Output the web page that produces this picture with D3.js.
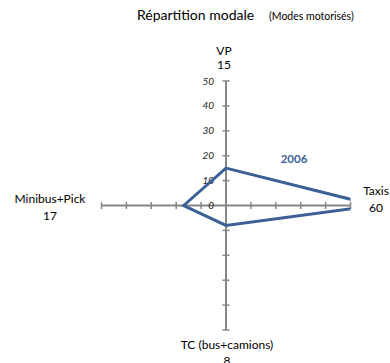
<!DOCTYPE html>
<html><head><meta charset="utf-8">
<script src="https://cdn.jsdelivr.net/npm/d3@7"></script>
<style>body{margin:0;background:#fff}svg{display:block}text{font-family:Lato,"Liberation Sans",Arial,sans-serif}</style>
</head><body>
<script>
const categories = ["VP", "Taxis", "TC (bus+camions)", "Minibus+Pick"];
const values2006 = [15, 60, 8, 17];
const tickValues = [0, 10, 20, 30, 40, 50];
const seriesName = "2006";

const W = 390, H = 363, cx = 226, cy = 205.5, R = 124.5;
const svg = d3.select("body").append("svg").attr("width", W).attr("height", H);
const r = d3.scaleLinear().domain([0, 50]).range([0, R]);
const ang = d3.scaleLinear().domain([0, categories.length]).range([0, 2 * Math.PI]);
const pt = (i, v) => [cx + r(v) * Math.sin(ang(i)), cy - r(v) * Math.cos(ang(i))];

// title
svg.append("text").attr("x", 137).attr("y", 20).attr("font-size", 14).text("Répartition modale");
svg.append("text").attr("x", 269).attr("y", 20).attr("font-size", 10.5).text("(Modes motorisés)");

const axisColor = "#868686";
// axes
categories.forEach((c, i) => {
  const [x2, y2] = pt(i, 50);
  svg.append("line").attr("x1", cx).attr("y1", cy).attr("x2", x2).attr("y2", y2)
    .attr("stroke", axisColor).attr("stroke-width", 2);
  tickValues.forEach(v => {
    if (v === 0) return;
    const [x, y] = pt(i, v);
    const a = ang(i);
    const dx = 3.5 * Math.cos(a), dy = 3.5 * Math.sin(a);
    svg.append("line").attr("x1", x - dx).attr("y1", y - dy).attr("x2", x + dx).attr("y2", y + dy)
      .attr("stroke", axisColor).attr("stroke-width", 1.5);
  });
});
// tick labels on first axis
tickValues.forEach(v => {
  const [x, y] = pt(0, v);
  svg.append("text").attr("x", x - 12).attr("y", y + 3.5).attr("text-anchor", "end")
    .attr("font-size", 10).attr("font-style", "italic").attr("fill", "#222").text(v);
});

// clip to plot area
svg.append("clipPath").attr("id", "clip").append("rect")
  .attr("x", cx - R).attr("y", cy - R).attr("width", 2 * R).attr("height", 2 * R);

const line = d3.line().curve(d3.curveLinearClosed);
svg.append("path").attr("clip-path", "url(#clip)")
  .attr("d", line(values2006.map((v, i) => pt(i, v))))
  .attr("fill", "none").attr("stroke", "#3A6095").attr("stroke-width", 3).attr("stroke-linejoin", "miter");

svg.append("text").attr("x", 294).attr("y", 163).attr("text-anchor", "middle")
  .attr("font-size", 11.5).attr("font-weight", "bold").attr("fill", "#3A6095").text(seriesName);

// category labels
const labelPos = [[224, 55, 69], [376, 195, 211.5], [227, 349, 365], [50, 203, 219.5]];
categories.forEach((c, i) => {
  const [x, y1, y2] = labelPos[i];
  svg.append("text").attr("x", x).attr("y", y1).attr("text-anchor", "middle").attr("font-size", 12).text(c);
  svg.append("text").attr("x", x).attr("y", y2).attr("text-anchor", "middle").attr("font-size", 12).text(values2006[i]);
});
</script>
</body></html>
